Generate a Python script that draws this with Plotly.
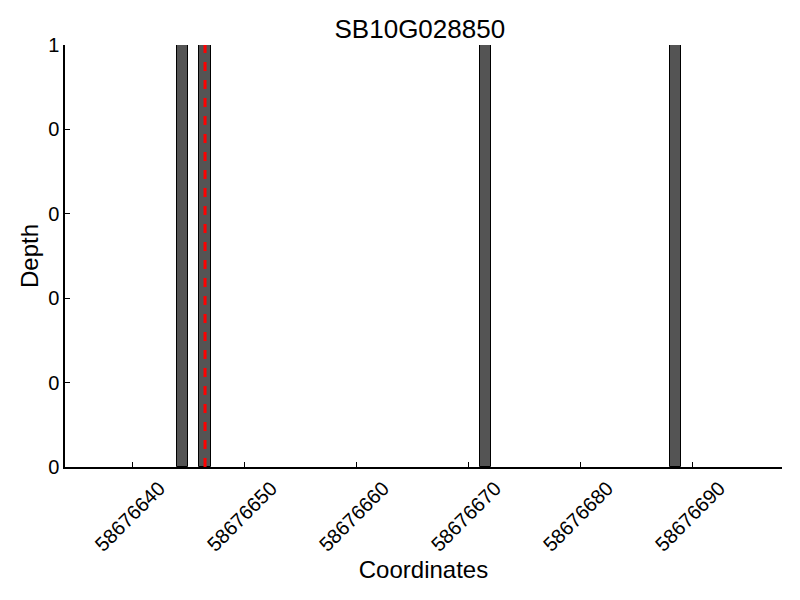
import plotly.graph_objects as go

# coverage bars (left edge of each 1-bp bin) and depth
bar_starts = [58676644, 58676646, 58676671, 58676688]
bar_depth = [1, 1, 1, 1]
bar_width = 1

# marked position (red dashed line)
marker_pos = 58676646.5

x_range = [58676634, 58676698]
x_tickvals = [58676640, 58676650, 58676660, 58676670, 58676680, 58676690]
y_tickvals = [0, 0.2, 0.4, 0.6, 0.8, 1.0]
y_ticktext = ["0", "0", "0", "0", "0", "1"]

FONT = "Liberation Sans, Arial, sans-serif"

fig = go.Figure()
fig.add_trace(go.Bar(
    x=[s + bar_width / 2 for s in bar_starts],
    y=bar_depth,
    width=bar_width,
    marker=dict(color="#545454", line=dict(color="#000000", width=1)),
    showlegend=False,
))
fig.add_trace(go.Scatter(
    x=[marker_pos, marker_pos],
    y=[0, 1],
    mode="lines",
    line=dict(color="#ff0000", width=3, dash="dash"),
    showlegend=False,
))

# the page body adds an 8px margin, so the figure is sized 792x592
fig.update_layout(
    width=792,
    height=592,
    plot_bgcolor="white",
    paper_bgcolor="white",
    margin=dict(l=57, r=18, t=37, b=133),
    font=dict(family=FONT, size=20, color="black"),
    title=dict(text="SB10G028850", x=0.52, xanchor="center", y=0.9645,
               yanchor="middle", font=dict(size=26)),
    bargap=0,
    xaxis=dict(
        range=x_range,
        tickvals=x_tickvals,
        ticktext=[str(v) for v in x_tickvals],
        tickangle=-45,
        tickfont=dict(size=20),
        ticklabelshift=27,
        ticks="inside",
        ticklen=5,
        tickcolor="black",
        showline=True,
        linecolor="black",
        linewidth=1.5,
        showgrid=False,
        zeroline=False,
        automargin=False,
        title=dict(text="Coordinates", font=dict(size=24), standoff=7),
    ),
    yaxis=dict(
        range=[0, 1],
        tickvals=y_tickvals,
        ticktext=y_ticktext,
        tickfont=dict(size=20),
        ticks="inside",
        ticklen=5,
        tickcolor="black",
        showline=True,
        linecolor="black",
        linewidth=1.5,
        showgrid=False,
        zeroline=False,
        automargin=False,
        title=dict(text="Depth", font=dict(size=24), standoff=3),
    ),
)

fig.write_html("out.html")
